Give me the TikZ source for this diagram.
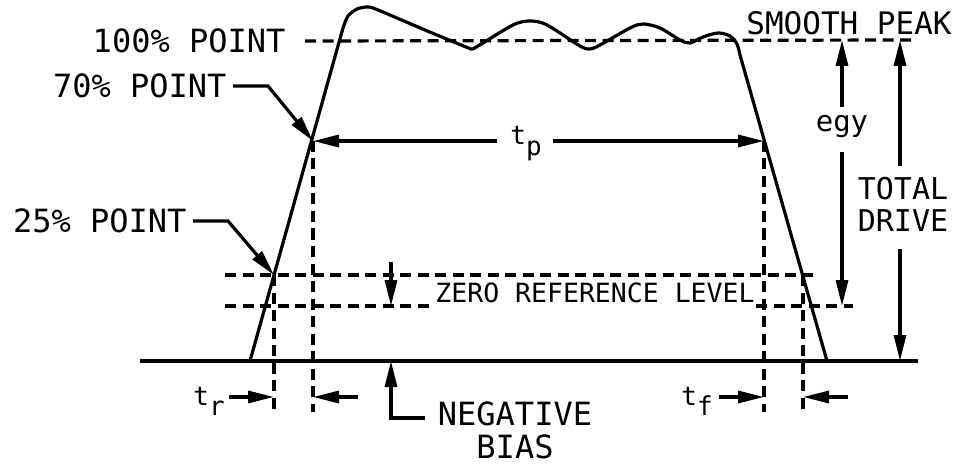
\documentclass[tikz,border=0pt]{standalone}
\usepackage{fontspec}
\setmonofont{DejaVu Sans Mono}
\usepackage{tikz}
\usetikzlibrary{arrows.meta, calc, positioning}

\tikzset{
  dimarrow/.style={-{Triangle[length=26pt, width=12pt]}},
  guide/.style={line width=3.2pt, dash pattern=on 11pt off 6.5pt},
  lbl/.style={font=\ttfamily\fontsize{32}{33}\selectfont, inner sep=0pt},
  tlbl/.style={font=\ttfamily\fontsize{26}{28}\selectfont, inner sep=0pt},
}

\begin{document}
\begin{tikzpicture}[x=1pt, y=1pt, line width=3.2pt]
  \useasboundingbox (0,0) rectangle (961,-465);
  % points on the pulse
  \coordinate (foot1) at (250,-361);
  \coordinate (foot2) at (827,-361);
  \coordinate (rise70) at (313,-141);
  \coordinate (fall70) at (764,-141);
  \coordinate (rise25) at (274,-275);
  \coordinate (fall25) at (803,-275);
  \coordinate (peakR) at (913,-40);
  \coordinate (zeroR) at (853,-306);
  \coordinate (bot) at (0,-412);
  \coordinate (trow) at (0,-397);

  % baseline and pulse
  \draw (140,-361) -- (918,-361);
  \draw[line join=round] (foot1) -- plot[smooth, tension=0.5] coordinates {
    (343,-28) (348,-16) (357,-9) (368,-7) (378,-10) (425,-30) (466,-47)
    (472,-49) (478,-46) (513,-25) (530,-21) (547,-25) (580,-46) (590,-49)
    (600,-45) (630,-28) (643,-24) (660,-28) (680,-40) (690,-43) (703,-37)
    (718,-33) (730,-36) (737,-44) (740,-55)} -- (foot2);

  % dashed guides
  \draw[guide] (225,-275) -- (813,-275);
  \foreach \p in {rise25, rise70, fall70, fall25}
    \draw[guide] (\p) -- (\p |- bot);

  % level labels
  \node[lbl, anchor=east] (p100) at (287,-41) {100\% POINT};
  \draw[guide] ([xshift=18pt]p100.east) -- (peakR);
  \node[lbl, anchor=east] (p70) at (228,-86) {70\% POINT};
  \draw[dimarrow] ([xshift=5pt]p70.east) -- ++(35,0) -- (rise70);
  \node[lbl, anchor=east] (p25) at (188,-221) {25\% POINT};
  \draw[dimarrow] ([xshift=5pt]p25.east) -- ++(35,0) -- (rise25);
  \node[font=\ttfamily\fontsize{31}{32}\selectfont, inner sep=0pt] (smooth) at (849,-23) {SMOOTH PEAK};

  % pulse width
  \node[tlbl, anchor=base] (tp) at (526,-145) {t\raisebox{-11pt}{p}};
  \draw[dimarrow] ($(tp.west |- rise70)+(-12,0)$) -- (rise70);
  \draw[dimarrow] ($(tp.east |- rise70)+(10,0)$) -- (fall70);

  % rise and fall times
  \node[tlbl, anchor=base] (tr) at (209,-405) {t\raisebox{-10pt}{r}};
  \draw[dimarrow] ($(tr.east |- trow)+(3,0)$) -- (rise25 |- trow);
  \draw[dimarrow] ($(rise70 |- trow)+(45,0)$) -- (rise70 |- trow);
  \node[tlbl, anchor=base] (tf) at (697,-405) {t\raisebox{-10pt}{f}};
  \draw[dimarrow] ($(tf.east |- trow)+(5,0)$) -- (fall70 |- trow);
  \draw[dimarrow] ($(fall25 |- trow)+(45,0)$) -- (fall25 |- trow);

  % zero reference
  \node[font=\ttfamily\fontsize{26.5}{28}\selectfont, inner sep=0pt, anchor=base] (zero) at (595,-302) {ZERO REFERENCE LEVEL};
  \draw[guide] (225,-306) -- (zero.west |- zeroR);
  \draw[guide] (zero.east |- zeroR) -- (zeroR);
  \draw[dimarrow] (391,-262) -- (391,-306);

  % egy and total drive
  \node[font=\ttfamily\fontsize{29}{30}\selectfont, inner sep=0pt, anchor=base] (egy) at (842,-132) {egy};
  \draw[dimarrow] ([yshift=7pt]egy.north) -- (egy |- peakR);
  \draw[dimarrow] ([yshift=-12pt]egy.south) -- (egy |- zeroR);
  \coordinate (driveT) at (900,-40);
  \coordinate (driveB) at (900,-361);
  \node[font=\ttfamily\fontsize{30}{32}\selectfont, align=center, inner sep=0pt] (drive) at (903,-204) {TOTAL\\DRIVE};
  \draw[dimarrow] ($(drive.north -| driveT)+(0,9)$) -- (driveT);
  \draw[dimarrow] ($(drive.south -| driveB)+(0,-16)$) -- (driveB);

  % negative bias
  \node[lbl, align=center] (bias) at (515,-430) {NEGATIVE\\BIAS};
  \coordinate (biasL) at (391,-418);
  \draw[dimarrow] ($(bias.west |- biasL)+(-11,0)$) -- (biasL) -- (391,-361);
\end{tikzpicture}
\end{document}
